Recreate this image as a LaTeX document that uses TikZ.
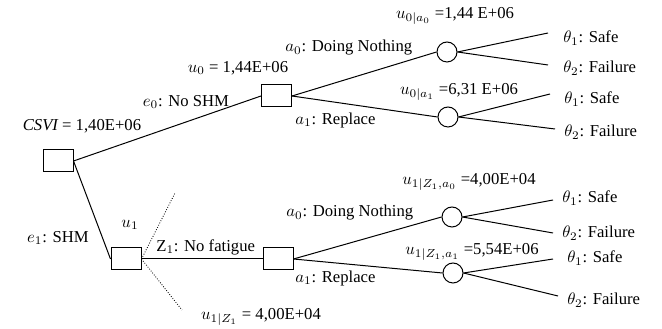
\documentclass[tikz,border=0pt]{standalone}
\usepackage{fontspec}
\setmainfont{Liberation Serif}
\begin{document}
\begin{tikzpicture}[x=0.6pt,y=-0.6pt,
  every node/.style={font=\rmfamily\fontsize{10}{12}\selectfont, inner sep=0pt},
  dbox/.style={draw, line width=0.6pt, minimum width=18pt, minimum height=13.2pt},
  chance/.style={draw, circle, line width=0.6pt, minimum size=12pt},
  edge/.style={line width=0.6pt},
  dot/.style={line width=0.5pt, densely dotted},
  lbl/.style={anchor=center}]
\useasboundingbox (0,0) rectangle (662,329);
% decision boxes
\node[dbox] (r) at (58,161) {};
\node[dbox] (b2) at (276.5,96) {};
\node[dbox] (u1) at (126,259) {};
\node[dbox] (b3) at (278,259) {};
% chance nodes
\node[chance] (c1) at (447,52) {};
\node[chance] (c2) at (448,117) {};
\node[chance] (c3) at (452,217) {};
\node[chance] (c4) at (453,273) {};
% terminal points
\coordinate (t1) at (548,33);
\coordinate (t2) at (548,65);
\coordinate (t3) at (550,94);
\coordinate (t4) at (555,129);
\coordinate (t5) at (553,200);
\coordinate (t6) at (553,233);
\coordinate (t7) at (553,259);
\coordinate (t8) at (558,296);
\coordinate (d1) at (175,193);
\coordinate (d2) at (182,310);
% connectors
\draw[edge] (r.east) -- (b2.west);
\draw[edge] (r.east) -- (u1.west);
\draw[edge] (u1.east) -- (b3.west);
\draw[dot] (u1.east) -- (d1);
\draw[dot] (u1.east) -- (d2);
\draw[edge] (b2.east) -- (c1.west);
\draw[edge] (b2.east) -- (c2.west);
\draw[edge] (b3.east) -- (c3.west);
\draw[edge] (b3.east) -- (c4.west);
\draw[edge] (c1.east) -- (t1);
\draw[edge] (c1.east) -- (t2);
\draw[edge] (c2.east) -- (t3);
\draw[edge] (c2.east) -- (t4);
\draw[edge] (c3.east) -- (t5);
\draw[edge] (c3.east) -- (t6);
\draw[edge] (c4.east) -- (t7);
\draw[edge] (c4.east) -- (t8);
% labels
\node[lbl] (l1) at (82,126) {$\mathit{CSVI}$ = 1,40E+06};
\node[lbl] (l2) at (186,102) {$e_0$: No SHM};
\node[lbl] (l3) at (238,68) {$u_0$ = 1,44E+06};
\node[anchor=west] (l4) at (285,48) {$a_0$: Doing Nothing};
\node[anchor=west] (l5) at (295,120) {$a_1$: Replace};
\node[lbl] (l6) at (455,16) {$u_{0|a_0}$ =1,44 E+06};
\node[lbl] (l7) at (459,92) {$u_{0|a_1}$ =6,31 E+06};
\node[anchor=west] (s1) at (563,38) {$\theta_1$: Safe};
\node[anchor=west] (s2) at (563,68) {$\theta_2$: Failure};
\node[anchor=west] (s3) at (564,99) {$\theta_1$: Safe};
\node[anchor=west] (s4) at (564,132) {$\theta_2$: Failure};
\node[lbl] (l8) at (58,238) {$e_1$: SHM};
\node[lbl] (l9) at (130,225) {$u_1$};
\node[anchor=west] (l10) at (156,247) {Z$_1$: No fatigue};
\node[lbl] (l11) at (261,317) {$u_{1|Z_1}$ = 4,00E+04};
\node[anchor=west] (l12) at (286,213) {$a_0$: Doing Nothing};
\node[anchor=west] (l13) at (295,278) {$a_1$: Replace};
\node[lbl] (l14) at (469,182) {$u_{1|Z_1,a_0}$ =4,00E+04};
\node[lbl] (l15) at (472,252) {$u_{1|Z_1,a_1}$ =5,54E+06};
\node[anchor=west] (s5) at (562,198) {$\theta_1$: Safe};
\node[anchor=west] (s6) at (562,233) {$\theta_2$: Failure};
\node[anchor=west] (s7) at (567,258) {$\theta_1$: Safe};
\node[anchor=west] (s8) at (567,300) {$\theta_2$: Failure};
\end{tikzpicture}
\end{document}
